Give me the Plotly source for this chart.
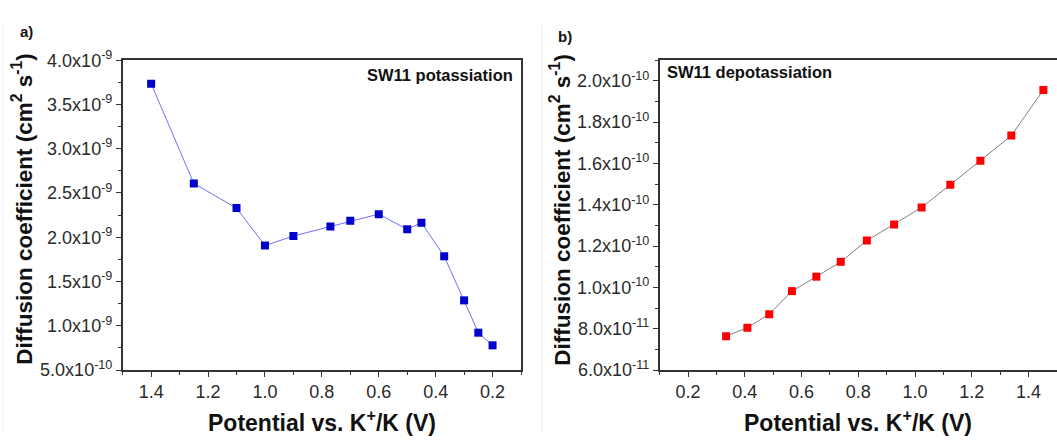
import plotly.graph_objects as go

# SW11 potassiation (discharge)
pot_potential = [1.40, 1.25, 1.10, 1.00, 0.90, 0.77, 0.70, 0.60, 0.50, 0.45, 0.37, 0.30, 0.25, 0.20]
pot_diffusion = [3.735e-9, 2.608e-9, 2.329e-9, 1.906e-9, 2.014e-9, 2.121e-9, 2.185e-9,
                 2.261e-9, 2.089e-9, 2.164e-9, 1.785e-9, 1.287e-9, 0.922e-9, 0.779e-9]

# SW11 depotassiation (charge)
depot_potential = [0.334, 0.409, 0.486, 0.566, 0.652, 0.738, 0.830, 0.926, 1.023, 1.124, 1.230, 1.339, 1.452]
depot_diffusion = [0.764e-10, 0.805e-10, 0.870e-10, 0.982e-10, 1.052e-10, 1.124e-10, 1.227e-10,
                   1.305e-10, 1.387e-10, 1.497e-10, 1.613e-10, 1.735e-10, 1.956e-10]

# tick values and labels
pot_yticks = [0.5e-9, 1.0e-9, 1.5e-9, 2.0e-9, 2.5e-9, 3.0e-9, 3.5e-9, 4.0e-9]
pot_ylabels = ["5.0x10<sup>-10</sup>", "1.0x10<sup>-9</sup>", "1.5x10<sup>-9</sup>", "2.0x10<sup>-9</sup>",
               "2.5x10<sup>-9</sup>", "3.0x10<sup>-9</sup>", "3.5x10<sup>-9</sup>", "4.0x10<sup>-9</sup>"]
depot_yticks = [0.6e-10, 0.8e-10, 1.0e-10, 1.2e-10, 1.4e-10, 1.6e-10, 1.8e-10, 2.0e-10]
depot_ylabels = ["6.0x10<sup>-11</sup>", "8.0x10<sup>-11</sup>", "1.0x10<sup>-10</sup>", "1.2x10<sup>-10</sup>",
                 "1.4x10<sup>-10</sup>", "1.6x10<sup>-10</sup>", "1.8x10<sup>-10</sup>", "2.0x10<sup>-10</sup>"]
xticks = [0.2, 0.4, 0.6, 0.8, 1.0, 1.2, 1.4]
xlabels = ["0.2", "0.4", "0.6", "0.8", "1.0", "1.2", "1.4"]

FONT = "Liberation Sans, Arial, sans-serif"
W, H = 1057, 444

fig = go.Figure()
fig.add_trace(go.Scatter(
    x=pot_potential, y=pot_diffusion, mode="lines+markers",
    line=dict(color="#6f6ff5", width=1),
    marker=dict(symbol="square", size=8, color="#0000cc"),
    xaxis="x", yaxis="y", showlegend=False))
fig.add_trace(go.Scatter(
    x=depot_potential, y=depot_diffusion, mode="lines+markers",
    line=dict(color="#808080", width=1),
    marker=dict(symbol="square", size=8, color="#ff0000"),
    xaxis="x2", yaxis="y2", showlegend=False))

ydom = [1 - 376.7 / H, 1 - 50.7 / H]
tickfont = dict(family=FONT, size=18, color="#2a2a2a")
common = dict(showgrid=False, zeroline=False, showline=True, linecolor="#333333", linewidth=1.5,
              ticks="outside", ticklen=5, tickwidth=1, tickcolor="#333333", tickfont=tickfont)

fig.update_layout(
    width=W, height=H, margin=dict(l=0, r=0, t=0, b=0),
    paper_bgcolor="white", plot_bgcolor="white",
    xaxis=dict(domain=[122.7 / W, 521 / W], range=[1.5, 0.1], tickvals=xticks, ticktext=xlabels,
               mirror=True, anchor="y",
               minor=dict(ticks="outside", ticklen=3, dtick=0.1, tick0=0.1, tickcolor="#333333"),
               **common),
    yaxis=dict(domain=ydom, range=[0.5e-9, 4.0e-9], tickvals=pot_yticks, ticktext=pot_ylabels,
               mirror=True, anchor="x",
               minor=dict(ticks="outside", ticklen=3, dtick=0.25e-9, tick0=0.25e-9, tickcolor="#333333"),
               **common),
    xaxis2=dict(domain=[659.7 / W, 1.0], range=[0.1, 1.5], tickvals=xticks, ticktext=xlabels,
                mirror=True, anchor="y2",
                minor=dict(ticks="outside", ticklen=3, dtick=0.1, tick0=0.1, tickcolor="#333333"),
                **common),
    yaxis2=dict(domain=ydom, range=[0.6e-10, 2.1e-10], tickvals=depot_yticks, ticktext=depot_ylabels,
                mirror=False, anchor="x2",
                minor=dict(ticks="outside", ticklen=3, dtick=0.1e-10, tick0=0.1e-10, tickcolor="#333333"),
                **common),
)

bold = dict(family=FONT, color="#111111")
ylabel = "<b>Diffusion coefficient (cm<sup>2</sup> s<sup>-1</sup>)</b>"
xlabel = "<b>Potential vs. K<sup>+</sup>/K (V)</b>"
annotations = [
    dict(text="<b>a)</b>", x=18 / W, y=1 - 21 / H, xanchor="left", yanchor="middle",
         font=dict(size=15, **bold)),
    dict(text="<b>b)</b>", x=556 / W, y=1 - 26 / H, xanchor="left", yanchor="middle",
         font=dict(size=15, **bold)),
    dict(text="<b>SW11 potassiation</b>", x=515 / W, y=1 - 66 / H, xanchor="right", yanchor="middle",
         font=dict(size=16.5, **bold)),
    dict(text="<b>SW11 depotassiation</b>", x=665 / W, y=1 - 63 / H, xanchor="left", yanchor="middle",
         font=dict(size=16.5, **bold)),
    dict(text=xlabel, x=321.8 / W, y=1 - 430 / H, xanchor="center", yanchor="middle",
         font=dict(size=23, **bold)),
    dict(text=xlabel, x=858 / W, y=1 - 430 / H, xanchor="center", yanchor="middle",
         font=dict(size=23, **bold)),
    dict(text=ylabel, x=22 / W, y=1 - 207 / H, xanchor="center", yanchor="middle", textangle=-90,
         font=dict(size=22.5, **bold)),
    dict(text=ylabel, x=560 / W, y=1 - 208 / H, xanchor="center", yanchor="middle", textangle=-90,
         font=dict(size=22.5, **bold)),
]
for a in annotations:
    a.update(xref="paper", yref="paper", showarrow=False)
fig.update_layout(annotations=annotations)

# faint separators between the two panels
fig.add_shape(type="line", xref="paper", yref="paper", x0=542 / W, x1=542 / W, y0=0, y1=1 - 14 / H,
              line=dict(color="#eeeeee", width=1))
fig.add_shape(type="line", xref="paper", yref="paper", x0=3 / W, x1=3 / W, y0=0, y1=1 - 14 / H,
              line=dict(color="#f2f2f2", width=1))

# keep the page flush with the figure (no default body margin)
fig.write_html("out.html", post_script="document.body.style.margin='0';document.body.style.overflow='hidden';")
